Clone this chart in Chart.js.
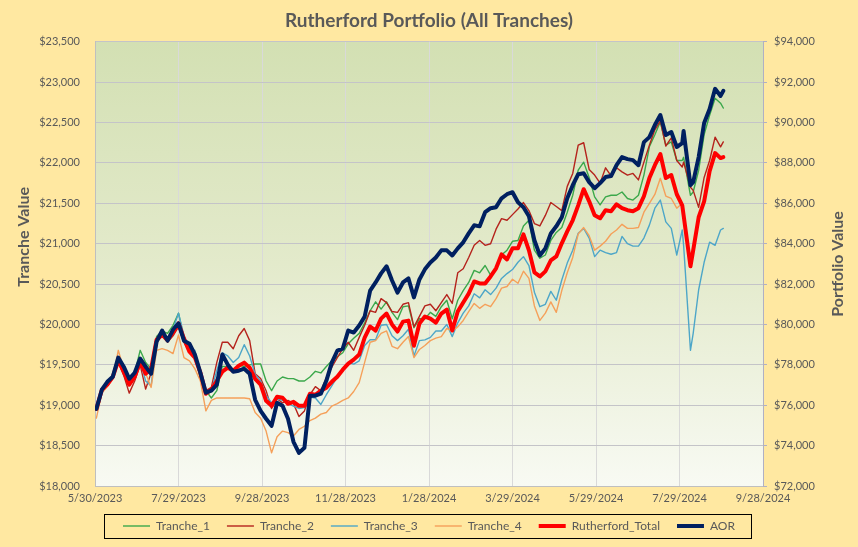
<!DOCTYPE html>
<html>
<head>
<meta charset="utf-8">
<script src="https://cdn.jsdelivr.net/npm/chart.js@4.4.1/dist/chart.umd.min.js"></script>
<style>
html,body{margin:0;padding:0;background:#FFE8A1;}
canvas{display:block;}
</style>
</head>
<body>
<canvas id="c" width="858" height="547"></canvas>
<script>
const chartTitle = 'Rutherford Portfolio (All Tranches)';
const leftAxisTitle = 'Tranche Value';
const rightAxisTitle = 'Portfolio Value';
const xTickLabels = ['5/30/2023','7/29/2023','9/28/2023','11/28/2023','1/28/2024','3/29/2024','5/29/2024','7/29/2024','9/28/2024'];

const dates = [
'2023-05-30','2023-06-03','2023-06-07','2023-06-11','2023-06-15','2023-06-19','2023-06-23','2023-06-27','2023-07-01','2023-07-05',
'2023-07-09','2023-07-13','2023-07-17','2023-07-21','2023-07-25','2023-07-29','2023-08-02','2023-08-06','2023-08-10','2023-08-14',
'2023-08-18','2023-08-22','2023-08-26','2023-08-30','2023-09-03','2023-09-07','2023-09-11','2023-09-15','2023-09-19','2023-09-23',
'2023-09-27','2023-10-01','2023-10-05','2023-10-09','2023-10-13','2023-10-17','2023-10-21','2023-10-25','2023-10-29','2023-11-02',
'2023-11-06','2023-11-10','2023-11-14','2023-11-18','2023-11-22','2023-11-26','2023-11-30','2023-12-04','2023-12-08','2023-12-12',
'2023-12-16','2023-12-20','2023-12-24','2023-12-28','2024-01-01','2024-01-05','2024-01-09','2024-01-13','2024-01-17','2024-01-21',
'2024-01-25','2024-01-29','2024-02-02','2024-02-06','2024-02-10','2024-02-14','2024-02-18','2024-02-22','2024-02-26','2024-03-01',
'2024-03-05','2024-03-09','2024-03-13','2024-03-17','2024-03-21','2024-03-25','2024-03-29','2024-04-02','2024-04-06','2024-04-10',
'2024-04-14','2024-04-18','2024-04-22','2024-04-26','2024-04-30','2024-05-04','2024-05-08','2024-05-12','2024-05-16','2024-05-20',
'2024-05-24','2024-05-28','2024-06-01','2024-06-05','2024-06-09','2024-06-13','2024-06-17','2024-06-21','2024-06-25','2024-06-29',
'2024-07-03','2024-07-07','2024-07-11','2024-07-15','2024-07-19','2024-07-23','2024-07-27','2024-07-31',
'2024-08-01','2024-08-06',
'2024-08-08','2024-08-12','2024-08-16','2024-08-20','2024-08-24','2024-08-28','2024-08-30'
];

const tranche1 = [
18960,19190,19270,19370,19580,19440,19290,19400,19680,19530,
19450,19850,19920,19890,19990,20140,19830,19700,19610,19330,
19180,19090,19180,19480,19480,19430,19500,19480,19500,19510,
19510,19300,19180,19300,19350,19330,19330,19300,19300,19350,
19420,19400,19480,19550,19600,19650,19760,19830,19890,20020,
20170,20280,20190,20280,20150,20060,20220,20230,19960,20070,
20070,20150,20100,20220,20300,20070,20300,20420,20520,20670,
20640,20730,20610,20690,20860,20920,21030,21040,21220,21290,
20920,20820,20860,21040,21140,21200,21390,21600,21910,22010,
21820,21580,21480,21580,21600,21600,21640,21560,21540,21600,
21850,22200,22350,22510,22220,22260,22030,22030,
22070,21600,
21640,21910,22350,22590,22800,22740,22680
];

const tranche2 = [
18960,19180,19240,19330,19530,19370,19150,19300,19500,19200,
19400,19780,19850,19780,19860,19970,19780,19650,19580,19370,
19180,19220,19530,19780,19780,19700,19860,19950,19800,19390,
19330,19180,18960,19080,19030,19060,19020,18860,18930,19130,
19230,19180,19340,19470,19590,19700,19780,19680,19840,19990,
20170,20150,20320,20270,20160,20150,20250,20270,19970,20100,
20230,20250,20170,20270,20370,20260,20640,20690,20830,20980,
21040,20980,21000,21180,21310,21290,21360,21430,21510,21410,
21250,21220,21350,21510,21460,21410,21710,21870,22220,22250,
21920,21850,21750,21940,21840,21940,21890,21850,21870,21790,
22010,22220,22410,22520,22210,22310,22030,21950,
22010,21700,
21660,21450,21820,22030,22320,22200,22260
];

const tranche3 = [
18960,19190,19250,19340,19550,19400,19270,19330,19550,19300,
19240,19800,19890,19830,19940,20140,19860,19710,19680,19370,
19180,19180,19430,19650,19610,19530,19590,19750,19610,19380,
19300,19120,19030,19080,19060,19020,18990,18960,18970,19100,
19090,19010,19130,19240,19350,19430,19530,19510,19550,19740,
19810,19810,19990,20000,19860,19800,19860,19940,19610,19800,
19810,19840,19920,19920,20000,19850,20020,20140,20230,20380,
20330,20430,20370,20450,20570,20630,20680,20770,20840,20730,
20400,20220,20250,20410,20300,20550,20760,20920,21130,21190,
21070,20840,20920,20890,20870,20890,21090,21000,20970,20970,
21070,21230,21440,21540,21270,21190,20860,21170,
20980,19680,
19890,20430,20770,21020,20980,21170,21190
];

const tranche4 = [
18840,19150,19230,19330,19680,19450,19280,19350,19500,19400,
19220,19680,19700,19680,19640,19870,19590,19550,19450,19300,
18930,19060,19090,19090,19090,19090,19090,19090,19080,18910,
18840,18680,18410,18610,18680,18660,18620,18700,18740,18810,
18840,18890,18910,18990,19020,19060,19090,19170,19280,19530,
19780,19800,19890,19920,19730,19700,19780,19850,19590,19690,
19740,19800,19830,19850,19950,19920,19970,20050,20160,20260,
20200,20250,20220,20320,20450,20470,20560,20510,20660,20570,
20230,20050,20140,20280,20150,20420,20640,20830,21120,21200,
21100,20920,20970,21030,21120,21170,21240,21190,21190,21200,
21390,21500,21610,21810,21590,21560,21440,21500,
21390,null,
null,null,null,null,null,null,null
];

const rutherfordTotal = [
75820,76770,77020,77410,78210,77660,77020,77410,78160,77560,
77810,79250,79500,79250,79600,80050,79300,78650,78360,77610,
76570,76770,77210,77660,77860,77710,77960,78110,77860,77310,
77020,76220,75970,76420,76370,76070,76170,75970,75970,76570,
76520,76720,76870,77160,77410,77760,78060,78260,78510,79350,
79900,79700,80290,80540,80000,79650,80140,80190,78950,80050,
80390,80290,80090,80540,80740,79700,80640,81090,81530,82130,
82030,82030,82380,82780,83470,83220,83770,83770,84460,83670,
82580,82380,82630,83170,83370,84020,84610,85160,85900,86700,
86100,85410,85260,85660,85610,85950,85760,85660,85610,85760,
86350,87250,87890,88440,87250,87400,86450,85900,
85410,82880,
83670,85310,86100,87590,88490,88240,88290
];

const aor = [
75820,76770,77160,77410,78360,77910,77310,77610,78310,77910,
77560,79150,79700,79200,79750,80050,79200,79050,78510,77610,
76620,76720,77020,78510,78010,77660,77710,77810,77560,76270,
75720,75330,74980,76120,75970,75330,74190,73640,73890,76470,
76470,76570,77210,78110,78700,78800,79700,79600,79950,80390,
81680,82080,82530,82880,82180,81580,82080,82280,81340,82230,
82730,83070,83320,83670,83670,83420,83770,84070,84510,84910,
84860,85560,85760,85810,86250,86450,86550,86050,85810,85360,
84170,83420,83770,84510,84860,85310,86250,86900,87440,87490,
87050,86750,87000,87300,87350,87890,88290,88190,88140,87890,
89030,89280,89880,90370,89380,89530,88790,88980,
89580,86900,
87050,88290,89980,90670,91670,91320,91570
];

// x positions: days since 2023-05-29 (axis origin, ticks every 61 days)
const origin = Date.UTC(2023, 4, 29);
const xs = dates.map(s => {
  const p = s.split('-').map(Number);
  return Math.round((Date.UTC(p[0], p[1] - 1, p[2]) - origin) / 86400000);
});
const pts = arr => arr.map((v, i) => ({x: xs[i], y: v}));

const TXT = '#595959';
const FONT = 'Lato';
const money = v => '$' + Number(v).toLocaleString('en-US');

const bgPlugin = {
  id: 'bg',
  beforeDraw(chart) {
    const {ctx, chartArea: a} = chart;
    ctx.save();
    ctx.fillStyle = '#FFE8A1';
    ctx.fillRect(0, 0, chart.width, chart.height);
    const g = ctx.createLinearGradient(0, a.top, 0, a.bottom);
    g.addColorStop(0, '#D3E0B3');
    g.addColorStop(0.5, '#E3EACB');
    g.addColorStop(1, '#F8FAF3');
    ctx.fillStyle = g;
    ctx.fillRect(a.left, a.top, a.right - a.left, a.bottom - a.top);
    ctx.restore();
  }
};

const decoPlugin = {
  id: 'deco',
  afterDraw(chart) {
    const {ctx, chartArea: a} = chart;
    ctx.save();
    ctx.fillStyle = TXT;
    ctx.font = 'bold 16px ' + FONT;
    ctx.textAlign = 'center';
    ctx.textBaseline = 'middle';
    const mid = (a.top + a.bottom) / 2;
    ctx.save();
    ctx.translate(24, mid - 27);
    ctx.rotate(-Math.PI / 2);
    ctx.fillText(leftAxisTitle, 0, 0);
    ctx.restore();
    ctx.save();
    ctx.translate(chart.width - 20, mid);
    ctx.rotate(-Math.PI / 2);
    ctx.fillText(rightAxisTitle, 0, 0);
    ctx.restore();
    const hb = chart.legend.legendHitBoxes;
    if (hb && hb.length) {
      const l = hb[0].left - 19;
      const last = hb[hb.length - 1];
      const r = last.left + last.width + 16;
      const cy = hb[0].top + hb[0].height / 2;
      ctx.strokeStyle = '#000000';
      ctx.lineWidth = 1;
      ctx.strokeRect(Math.round(l) + 0.5, Math.round(cy - 12) + 0.5, Math.round(r - l), 24);
    }
    ctx.restore();
  }
};

const base = {pointRadius: 0, pointHoverRadius: 0, tension: 0, fill: false, borderJoinStyle: 'round', borderCapStyle: 'round'};

new Chart(document.getElementById('c'), {
  type: 'line',
  data: {
    datasets: [
      Object.assign({label: 'Tranche_1', data: pts(tranche1), borderColor: '#3BA84B', backgroundColor: '#3BA84B', borderWidth: 1.4, yAxisID: 'y', order: 5}, base),
      Object.assign({label: 'Tranche_2', data: pts(tranche2), borderColor: '#B5231C', backgroundColor: '#B5231C', borderWidth: 1.4, yAxisID: 'y', order: 4}, base),
      Object.assign({label: 'Tranche_3', data: pts(tranche3), borderColor: '#4DA6C8', backgroundColor: '#4DA6C8', borderWidth: 1.4, yAxisID: 'y', order: 3}, base),
      Object.assign({label: 'Tranche_4', data: pts(tranche4), borderColor: '#F5A05A', backgroundColor: '#F5A05A', borderWidth: 1.4, yAxisID: 'y', order: 2}, base),
      Object.assign({label: 'Rutherford_Total', data: pts(rutherfordTotal), borderColor: '#FF0000', backgroundColor: '#FF0000', borderWidth: 4, yAxisID: 'y1', order: 1}, base),
      Object.assign({label: 'AOR', data: pts(aor), borderColor: '#002060', backgroundColor: '#002060', borderWidth: 4, yAxisID: 'y1', order: 0}, base)
    ]
  },
  options: {
    responsive: false,
    animation: false,
    devicePixelRatio: 1,
    events: [],
    layout: {padding: {left: 0, right: 0, top: 0, bottom: 5}},
    plugins: {
      title: {display: true, text: chartTitle, color: TXT, font: {family: FONT, size: 19, weight: 'bold'}, padding: {top: 9, bottom: 10}},
      legend: {
        position: 'bottom',
        labels: {
          usePointStyle: true, pointStyle: 'line', pointStyleWidth: 27, padding: 17,
          color: TXT, font: {family: FONT, size: 12},
          sort: (a, b) => a.datasetIndex - b.datasetIndex
        }
      },
      tooltip: {enabled: false}
    },
    scales: {
      x: {
        type: 'linear', min: 0, max: 488,
        afterFit: s => { s.height = 17; },
        ticks: {stepSize: 61, padding: 6, color: TXT, font: {family: FONT, size: 11}, maxRotation: 0, autoSkip: false,
          callback: v => xTickLabels[Math.round(v / 61)]},
        grid: {color: '#D9D9D9', drawTicks: false},
        border: {color: '#BFBFBF'}
      },
      y: {
        position: 'left', min: 18000, max: 23500,
        afterFit: s => { s.width = 95; },
        ticks: {stepSize: 500, padding: 15, color: TXT, font: {family: FONT, size: 11}, callback: money},
        grid: {color: '#C4C4C8', drawTicks: false},
        border: {color: '#BFBFBF'}
      },
      y1: {
        position: 'right', min: 72000, max: 94000,
        afterFit: s => { s.width = 95; },
        ticks: {stepSize: 2000, padding: 7, color: TXT, font: {family: FONT, size: 11}, callback: money},
        grid: {drawOnChartArea: false, drawTicks: true, tickLength: 4, color: '#B0B0C4'},
        border: {color: '#B0B0C4'}
      }
    }
  },
  plugins: [bgPlugin, decoPlugin]
});
</script>
</body>
</html>
